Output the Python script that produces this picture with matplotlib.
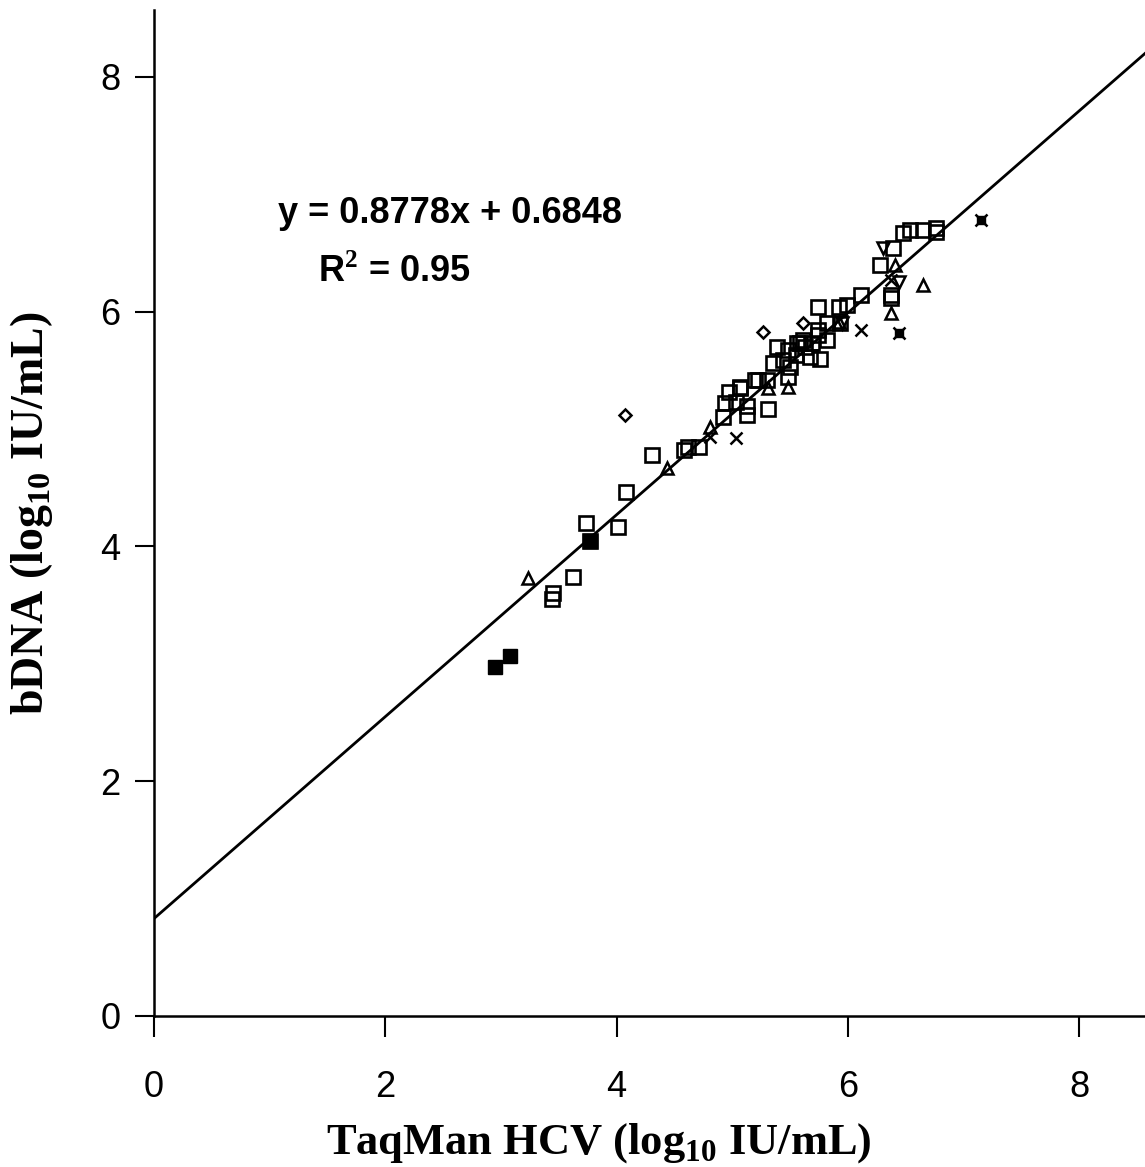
import numpy as np
import matplotlib.pyplot as plt

plt.rcParams["mathtext.fontset"] = "custom"
plt.rcParams["mathtext.bf"] = "Liberation Serif:bold"
plt.rcParams["mathtext.rm"] = "Liberation Serif"

# values
sq_x = [4.31, 4.08, 3.74, 4.01, 3.77, 3.62, 3.45, 3.44, 4.58, 4.62, 4.71, 4.92, 4.94, 4.97,
        5.07, 5.13, 5.13, 5.31, 5.20, 5.35, 5.39, 5.48, 5.50, 5.48, 5.56, 5.61, 5.74, 5.82,
        5.93, 5.82, 5.76, 5.67, 5.59, 5.22, 5.30, 5.07, 5.03, 5.74, 5.92, 5.99, 6.11, 6.37,
        6.48, 6.54, 6.65, 6.76, 6.76, 6.39, 6.28, 6.37, 5.44, 5.55, 5.69, 5.74, 5.63]
sq_y = [4.78, 4.46, 4.20, 4.17, 4.05, 3.74, 3.60, 3.55, 4.82, 4.85, 4.85, 5.10, 5.22, 5.32,
        5.35, 5.20, 5.12, 5.17, 5.42, 5.56, 5.70, 5.67, 5.53, 5.44, 5.73, 5.76, 5.84, 5.90,
        5.90, 5.76, 5.60, 5.61, 5.73, 5.42, 5.42, 5.36, 5.23, 6.04, 6.04, 6.06, 6.14, 6.14,
        6.67, 6.70, 6.70, 6.71, 6.68, 6.54, 6.40, 6.12, 5.59, 5.63, 5.73, 5.80, 5.70]

tri_x = [3.23, 4.44, 4.81, 5.31, 5.48, 6.37, 6.65, 6.41, 5.92]
tri_y = [3.73, 4.67, 5.02, 5.35, 5.36, 5.99, 6.23, 6.40, 5.91]

tri_dn_x = [6.30, 6.44, 5.95]
tri_dn_y = [6.54, 6.25, 5.90]

dia_x = [4.07, 5.27, 5.61]
dia_y = [5.12, 5.83, 5.90]

cross_x = [4.81, 5.03, 6.11, 6.37]
cross_y = [4.93, 4.92, 5.84, 6.27]

star_x = [6.44, 7.15]
star_y = [5.82, 6.78]

dark_x = [2.95, 3.08, 3.77]
dark_y = [2.97, 3.07, 4.05]

# regression line as drawn
fit_slope = 0.86
fit_intercept = 0.83

fig = plt.figure(figsize=(11.45, 11.67), dpi=100)
ax = fig.add_axes([0.1345, 0.1294, 0.8655, 0.862])

xs = np.array([0, 8.6])
ax.plot(xs, fit_slope * xs + fit_intercept, color="black", linewidth=2.0, zorder=1)

kw = dict(linestyle="none", markerfacecolor="none", markeredgecolor="black", zorder=2)
ax.plot(sq_x, sq_y, marker="s", markersize=9.5, markeredgewidth=1.9, **kw)
ax.plot(tri_x, tri_y, marker="^", markersize=8, markeredgewidth=1.8, **kw)
ax.plot(tri_dn_x, tri_dn_y, marker="v", markersize=8, markeredgewidth=1.8, **kw)
ax.plot(dia_x, dia_y, marker="D", markersize=6, markeredgewidth=1.8, **kw)
ax.plot(cross_x, cross_y, marker="x", markersize=8, markeredgewidth=1.8, **kw)
ax.plot(star_x, star_y, marker="s", markersize=6, markerfacecolor="black",
        markeredgecolor="black", linestyle="none", zorder=2)
ax.plot(star_x, star_y, marker="x", markersize=9, markeredgewidth=1.8,
        color="black", linestyle="none", zorder=2)
ax.plot(dark_x, dark_y, marker="s", markersize=10, markerfacecolor="black",
        markeredgecolor="black", linestyle="none", zorder=2)

ax.set_xlim(0, 8.57)
ax.set_ylim(0, 8.57)
ax.set_xticks([0, 2, 4, 6, 8])
ax.set_yticks([0, 2, 4, 6, 8])

for s in ["top", "right"]:
    ax.spines[s].set_visible(False)
for s in ["left", "bottom"]:
    ax.spines[s].set_linewidth(1.8)

ax.tick_params(axis="x", direction="out", length=15, width=1.5, pad=24, labelsize=26)
ax.tick_params(axis="y", direction="out", length=14, width=1.5, pad=10, labelsize=26)
for lab in ax.get_xticklabels() + ax.get_yticklabels():
    lab.set_family("Liberation Sans")

ax.set_xlabel(r"TaqMan HCV (log$_{\mathbf{10}}$ IU/mL)", fontsize=32,
              fontweight="bold", family="Liberation Serif")
ax.set_ylabel(r"bDNA (log$_{\mathbf{10}}$ IU/mL)", fontsize=33,
              fontweight="bold", family="Liberation Serif")
ax.xaxis.set_label_coords(0.449, -0.104)
ax.yaxis.set_label_coords(-0.100, 0.5)

ax.text(1.07, 6.84, "y = 0.8778x + 0.6848", fontsize=26, fontweight="bold",
        family="Liberation Sans", ha="left", va="center")
ax.text(1.42, 6.34, "R$^\\mathbf{2}$ = 0.95", fontsize=26, fontweight="bold",
        family="Liberation Sans", ha="left", va="center")

fig.savefig("out.png", dpi=100)
